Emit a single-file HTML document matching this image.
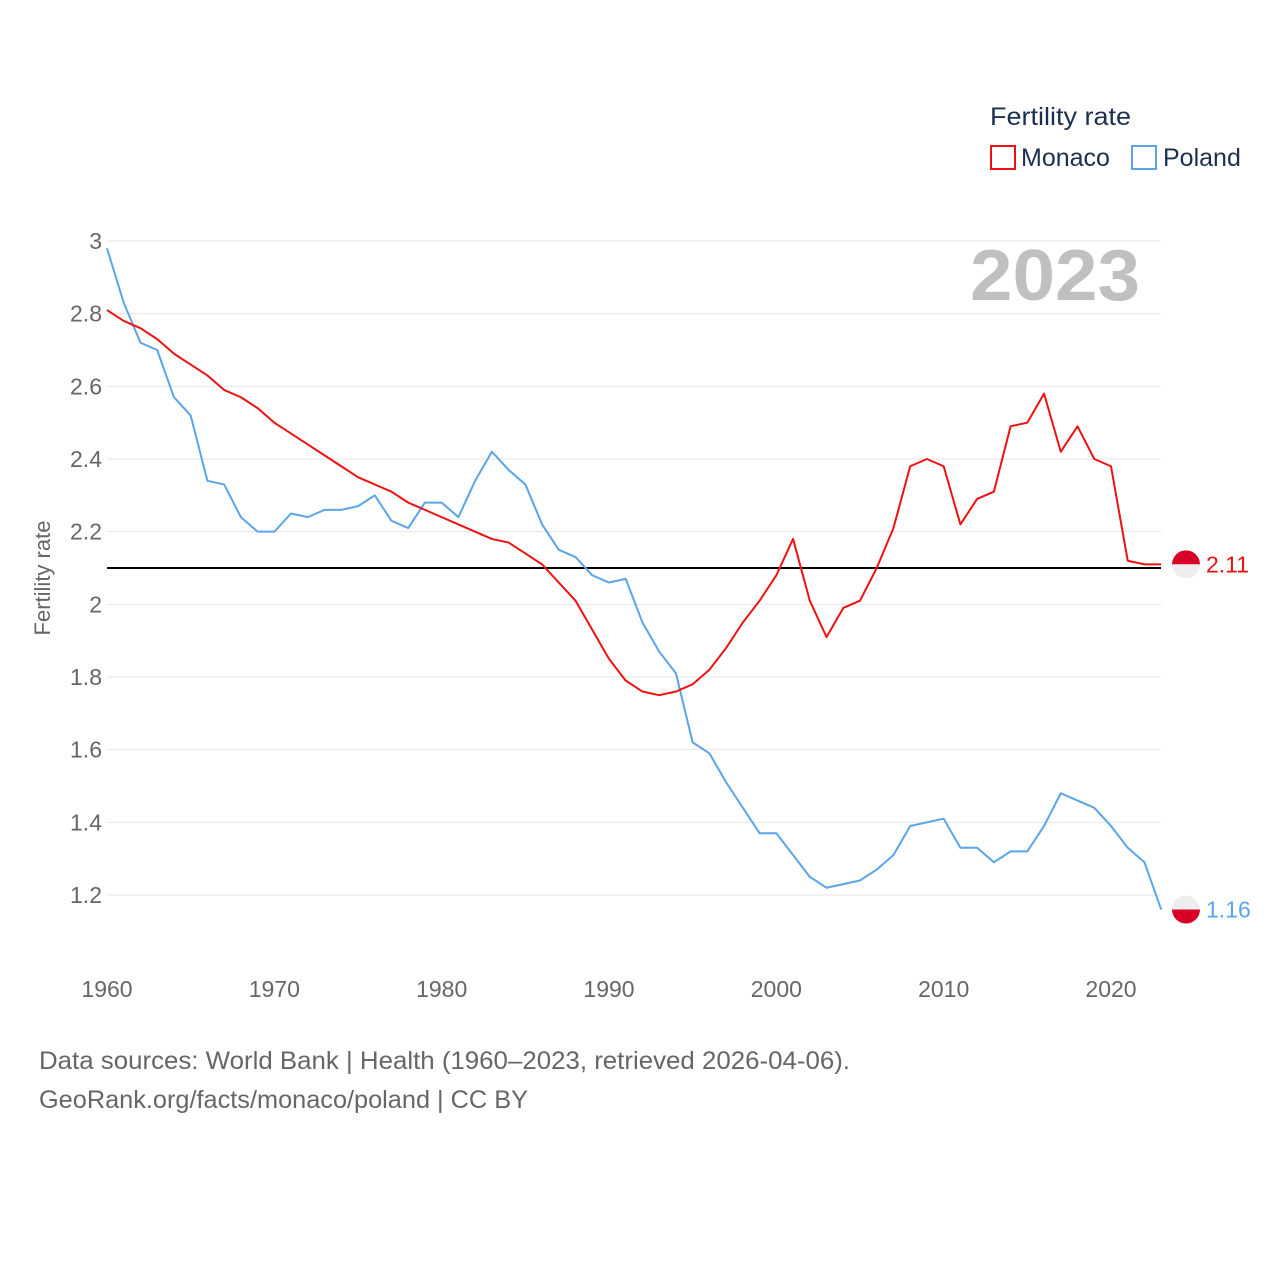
<!DOCTYPE html>
<html><head><meta charset="utf-8"><style>
body{margin:0;background:#fff;}
svg text{font-family:"Liberation Sans",sans-serif;}
</style></head><body>
<svg id="chart" width="1280" height="1280" xmlns="http://www.w3.org/2000/svg">
<text x="990" y="125" font-size="25" fill="#1b2f4f" textLength="141" lengthAdjust="spacingAndGlyphs">Fertility rate</text>
<rect x="991" y="146" width="24" height="23" fill="none" stroke="#ee1111" stroke-width="2"/>
<text x="1021" y="166" font-size="25" fill="#1b2f4f">Monaco</text>
<rect x="1132" y="146" width="24" height="23" fill="none" stroke="#5aa5ea" stroke-width="2"/>
<text x="1163" y="166" font-size="25" fill="#1b2f4f">Poland</text>
<text x="970" y="300" font-size="72" font-weight="bold" fill="#c0c0c0" textLength="170" lengthAdjust="spacingAndGlyphs">2023</text>
<text transform="translate(50,578) rotate(-90)" font-size="22" fill="#666" text-anchor="middle">Fertility rate</text>
<g id="grid"></g><g id="series"></g>
<text x="39" y="1069" font-size="25" fill="#666" textLength="811" lengthAdjust="spacingAndGlyphs">Data sources: World Bank | Health (1960–2023, retrieved 2026-04-06).</text>
<text x="39" y="1108" font-size="25" fill="#666" textLength="489" lengthAdjust="spacingAndGlyphs">GeoRank.org/facts/monaco/poland | CC BY</text>
</svg>
<script>
const years = Array.from({length:64},(_,i)=>1960+i);
const monaco = [2.81,2.78,2.76,2.73,2.69,2.66,2.63,2.59,2.57,2.54,2.50,2.47,2.44,2.41,2.38,2.35,2.33,2.31,2.28,2.26,2.24,2.22,2.20,2.18,2.17,2.14,2.11,2.06,2.01,1.93,1.85,1.79,1.76,1.75,1.76,1.78,1.82,1.88,1.95,2.01,2.08,2.18,2.01,1.91,1.99,2.01,2.10,2.21,2.38,2.40,2.38,2.22,2.29,2.31,2.49,2.50,2.58,2.42,2.49,2.40,2.38,2.12,2.11,2.11];
const poland = [2.98,2.83,2.72,2.70,2.57,2.52,2.34,2.33,2.24,2.20,2.20,2.25,2.24,2.26,2.26,2.27,2.30,2.23,2.21,2.28,2.28,2.24,2.34,2.42,2.37,2.33,2.22,2.15,2.13,2.08,2.06,2.07,1.95,1.87,1.81,1.62,1.59,1.51,1.44,1.37,1.37,1.31,1.25,1.22,1.23,1.24,1.27,1.31,1.39,1.40,1.41,1.33,1.33,1.29,1.32,1.32,1.39,1.48,1.46,1.44,1.39,1.33,1.29,1.16];
const yTicks = [1.2,1.4,1.6,1.8,2,2.2,2.4,2.6,2.8,3];
const yTickLabels = ["1.2","1.4","1.6","1.8","2","2.2","2.4","2.6","2.8","3"];
const xTicks = [1960,1970,1980,1990,2000,2010,2020];
const replacement = 2.1;
const NS="http://www.w3.org/2000/svg";
const x=v=>107+(v-1960)*(1111-107)/60;
const y=v=>241+(3-v)*(895-241)/1.8;
function mk(tag,attrs,parent,txt){const e=document.createElementNS(NS,tag);for(const k in attrs)e.setAttribute(k,attrs[k]);if(txt!==undefined)e.textContent=txt;parent.appendChild(e);return e;}
const grid=document.getElementById('grid'), ser=document.getElementById('series');
yTicks.forEach((t,i)=>{
  const l=mk('line',{x1:107,x2:1161,y1:y(t),y2:y(t),stroke:'#e6e6e6','stroke-width':1},grid);
  
  
  const tx=mk('text',{x:102,y:y(t)+8,'font-size':23,fill:'#666','text-anchor':'end'},grid,yTickLabels[i]);
  
  
});
xTicks.forEach(t=>{
  const tx=mk('text',{x:x(t),y:997,'font-size':23,fill:'#666','text-anchor':'middle'},grid,String(t));
  
  
});
const rl=mk('line',{x1:107,x2:1161,y1:y(replacement),y2:y(replacement),stroke:'#000','stroke-width':2},grid);


function line(vals,color,name){
  const p=mk('polyline',{points:vals.map((v,i)=>x(years[i])+','+y(v)).join(' '),fill:'none',stroke:color,'stroke-width':2,'stroke-linejoin':'round'},ser);
  
  
  const last=vals[vals.length-1], ly=y(last);
  const g=mk('g',{},ser);
  
  
  mk('clipPath',{id:'c'+name},g);
  document.getElementById('c'+name).appendChild(document.createElementNS(NS,'circle'));
  const cc=document.getElementById('c'+name).firstChild;cc.setAttribute('cx',1186);cc.setAttribute('cy',ly);cc.setAttribute('r',14);
  const topC = name==='monaco'?'#d80027':'#eeeeee', botC = name==='monaco'?'#eeeeee':'#d80027';
  mk('rect',{x:1172,y:ly-14,width:28,height:14,fill:topC,'clip-path':'url(#c'+name+')'},g);
  mk('rect',{x:1172,y:ly,width:28,height:14,fill:botC,'clip-path':'url(#c'+name+')'},g);
  const lbl=mk('text',{x:1206,y:ly+8,'font-size':23,fill:color},ser,last.toFixed(2));
  
  
}
line(poland,'#5aa5ea','poland');
line(monaco,'#ee1111','monaco');
</script>
</body></html>
